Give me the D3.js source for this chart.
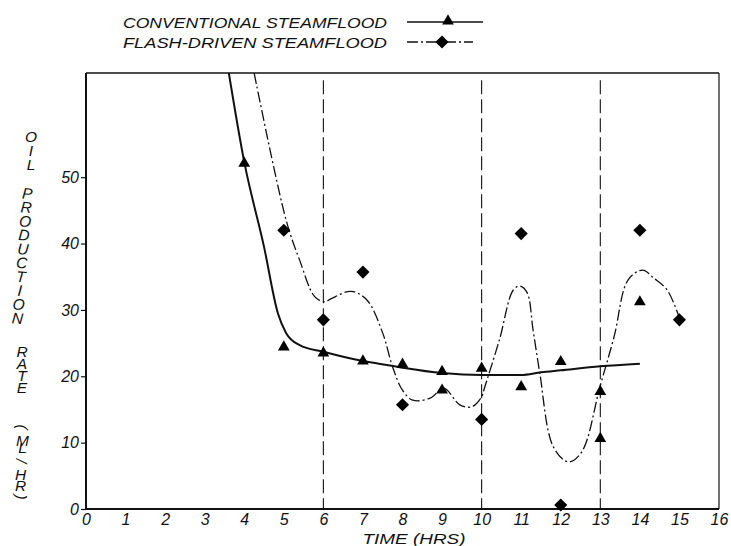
<!DOCTYPE html>
<html>
<head>
<meta charset="utf-8">
<script src="https://cdn.jsdelivr.net/npm/d3@7"></script>
<style>
  body { margin: 0; background: #fff; }
  text { font-family: "Liberation Sans", Arial, sans-serif; font-style: italic; fill: #111; }
  text.vert { writing-mode: vertical-rl; text-orientation: upright; }
</style>
</head>
<body>
<svg id="chart" width="731" height="546"></svg>
<script>
// measured points
var convTime = [4, 5, 6, 7, 8, 9, 9, 10, 11, 12, 13, 13, 14];
var convRate = [52.1, 24.4, 23.5, 22.3, 21.8, 20.7, 17.9, 21.2, 18.4, 22.2, 17.7, 10.6, 31.2];
var flashTime = [5, 6, 7, 8, 10, 11, 12, 14, 15];
var flashRate = [42, 28.5, 35.7, 15.7, 13.5, 41.5, 0.6, 42, 28.5];

// hand-drawn fitted curves
var convFitTime = [3.61, 4, 4.5, 4.85, 5.06, 5.4, 6, 7, 7.4, 8, 9, 10, 11, 11.5, 12, 13, 14];
var convFitRate = [65.7, 52.3, 39.5, 29.5, 26.5, 24.7, 23.7, 22.3, 21.9, 21.3, 20.5, 20.2, 20.2, 20.6, 20.9, 21.5, 21.9];
var flashFitTime = [4.25, 5.06, 5.4, 5.78, 6.03, 6.2, 6.7, 7.1, 7.5, 7.75, 8, 8.26, 8.7, 9.04, 9.45, 9.75, 10, 10.07,
  10.45, 10.8, 10.97, 11.15, 11.3, 11.47, 11.81, 12.19, 12.53, 12.99, 13.35, 13.7, 14.07, 14.35, 14.69, 15];
var flashFitRate = [65.7, 43.5, 37.5, 32, 31.2, 31.7, 32.8, 31.5, 26.5, 21.4, 17.9, 16.4, 16.7, 18.2, 15.7, 15.4, 16.9, 18.2,
  25.5, 33, 33.6, 32.6, 27, 20.5, 9.4, 7.1, 8.6, 18.4, 26, 34.5, 36, 34.8, 33, 28.8];

var dividerTimes = [6, 10, 13];
var xTicks = [0, 1, 2, 3, 4, 5, 6, 7, 8, 9, 10, 11, 12, 13, 14, 15, 16];
var yTicks = [0, 10, 20, 30, 40, 50];
var yMax = 65.7;

var legendLabels = ["CONVENTIONAL STEAMFLOOD", "FLASH-DRIVEN STEAMFLOOD"];
var yTitleWords = ["OIL", "PRODUCTION", "RATE", "ML", "HR"];
var xTitle = "TIME (HRS)";

var svg = d3.select("#chart");
var x = d3.scaleLinear().domain([0, 16]).range([86, 719]);
var y = d3.scaleLinear().domain([0, yMax]).range([509, 73]);

svg.append("rect").attr("width", 731).attr("height", 546).attr("fill", "#fff");

svg.append("defs").append("clipPath").attr("id", "plotclip")
  .append("rect")
  .attr("x", x(0)).attr("y", y(yMax))
  .attr("width", x(16) - x(0)).attr("height", y(0) - y(yMax));

// frame
var frame = svg.append("g").attr("stroke", "#111").attr("fill", "none");
frame.append("line").attr("x1", x(0)).attr("x2", x(16)).attr("y1", y(yMax)).attr("y2", y(yMax)).attr("stroke-width", 1.6);
frame.append("line").attr("x1", x(16)).attr("x2", x(16)).attr("y1", y(yMax)).attr("y2", y(0)).attr("stroke-width", 1.2);
frame.append("line").attr("x1", x(0)).attr("x2", x(0)).attr("y1", y(yMax)).attr("y2", y(0)).attr("stroke-width", 2);
frame.append("line").attr("x1", x(0)).attr("x2", x(16)).attr("y1", y(0)).attr("y2", y(0)).attr("stroke-width", 2);

// axes
var yAxis = svg.append("g")
  .attr("transform", "translate(" + x(0) + ",0)")
  .call(d3.axisLeft(y).tickValues(yTicks).tickSize(5).tickPadding(2).tickFormat(d3.format("d")));
yAxis.select(".domain").remove();
yAxis.selectAll("line").attr("stroke", "#111").attr("stroke-width", 1.2);
yAxis.selectAll("text").attr("font-size", 16).attr("font-family", null);

var xAxis = svg.append("g")
  .attr("transform", "translate(0," + y(0) + ")")
  .call(d3.axisBottom(x).tickValues(xTicks).tickSize(0).tickPadding(5).tickFormat(d3.format("d")));
xAxis.select(".domain").remove();
xAxis.selectAll("text").attr("font-size", 16).attr("font-family", null);

svg.append("text")
  .attr("x", 414).attr("y", 544)
  .attr("text-anchor", "middle")
  .attr("font-size", 15)
  .attr("textLength", 103).attr("lengthAdjust", "spacingAndGlyphs")
  .text(xTitle);

// vertical title, upright letters stacked down the page
var wordX = [31, 28, 22, 22.5, 20.5];
var wordTop = [127.5, 185, 343, 432, 466];
var wordLen = [45, 142, 53, 24, 28];
var wordTilt = [0, 4.5, 0, 0, 0];
yTitleWords.forEach(function(w, i) {
  svg.append("text")
    .attr("class", "vert")
    .attr("transform", "rotate(" + wordTilt[i] + "," + wordX[i] + "," + wordTop[i] + ")")
    .attr("x", wordX[i])
    .attr("y", wordTop[i])
    .attr("font-size", 15.5)
    .attr("textLength", wordLen[i])
    .attr("lengthAdjust", "spacing")
    .text(w);
});
// brackets and stroke of (ML/HR), turned sideways
[["(", 23, 427], ["/", 22, 461], [")", 22, 497]].forEach(function(d) {
  svg.append("text")
    .attr("transform", "translate(" + d[1] + "," + d[2] + ") rotate(90)")
    .attr("text-anchor", "middle")
    .attr("dy", "0.36em")
    .attr("font-size", 15.5)
    .text(d[0]);
});

// dashed time markers
svg.append("g").selectAll("line")
  .data(dividerTimes)
  .enter()
  .append("line")
  .attr("x1", function(d) { return x(d); })
  .attr("x2", function(d) { return x(d); })
  .attr("y1", y(64.6))
  .attr("y2", y(0))
  .attr("stroke", "#111")
  .attr("stroke-width", 1.1)
  .attr("stroke-dasharray", "14,5");

// fitted curves
var convLine = d3.line()
  .x(function(d) { return x(d[0]); })
  .y(function(d) { return y(d[1]); })
  .curve(d3.curveMonotoneX);
var flashLine = d3.line()
  .x(function(d) { return x(d[0]); })
  .y(function(d) { return y(d[1]); })
  .curve(d3.curveCatmullRom.alpha(0.5));

var plot = svg.append("g").attr("clip-path", "url(#plotclip)");
plot.append("path")
  .datum(d3.zip(convFitTime, convFitRate))
  .attr("d", convLine)
  .attr("fill", "none")
  .attr("stroke", "#111")
  .attr("stroke-width", 2);
plot.append("path")
  .datum(d3.zip(flashFitTime, flashFitRate))
  .attr("d", flashLine)
  .attr("fill", "none")
  .attr("stroke", "#111")
  .attr("stroke-width", 1.3)
  .attr("stroke-dasharray", "11,3,2,3");

// markers
var tri = d3.symbol().type(d3.symbolTriangle).size(60);
var dia = d3.symbol().type(d3.symbolSquare).size(86);

svg.append("g").selectAll("path")
  .data(d3.zip(convTime, convRate))
  .enter()
  .append("path")
  .attr("d", tri)
  .attr("transform", function(d) { return "translate(" + x(d[0]) + "," + y(d[1]) + ")"; })
  .attr("fill", "#000");

svg.append("g").selectAll("path")
  .data(d3.zip(flashTime, flashRate))
  .enter()
  .append("path")
  .attr("d", dia)
  .attr("transform", function(d) { return "translate(" + x(d[0]) + "," + y(d[1]) + ") rotate(45)"; })
  .attr("fill", "#000");

// legend
var legend = svg.append("g");
legend.selectAll("text")
  .data(legendLabels)
  .enter()
  .append("text")
  .attr("x", 123)
  .attr("y", function(d, i) { return 27.5 + i * 20; })
  .attr("font-size", 15.5)
  .attr("textLength", 264)
  .attr("lengthAdjust", "spacingAndGlyphs")
  .text(function(d) { return d; });

legend.append("line")
  .attr("x1", 407).attr("x2", 483).attr("y1", 22).attr("y2", 22)
  .attr("stroke", "#111").attr("stroke-width", 1.6);
legend.append("path")
  .attr("d", tri)
  .attr("transform", "translate(448,21)")
  .attr("fill", "#000");
legend.append("line")
  .attr("x1", 407).attr("x2", 473).attr("y1", 42).attr("y2", 42)
  .attr("stroke", "#111").attr("stroke-width", 1.4)
  .attr("stroke-dasharray", "11,3,2,3");
legend.append("path")
  .attr("d", dia)
  .attr("transform", "translate(442,42) rotate(45)")
  .attr("fill", "#000");
</script>
</body>
</html>
